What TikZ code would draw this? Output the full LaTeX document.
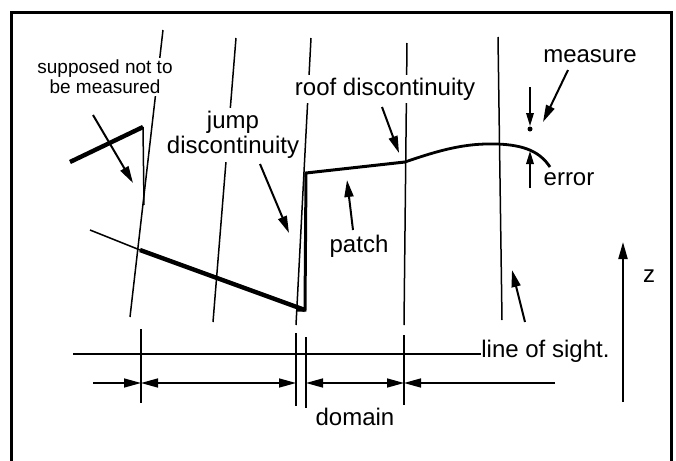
\documentclass[tikz,border=0pt]{standalone}
\usepackage{fontspec}
\setmainfont{Liberation Sans}
\usetikzlibrary{arrows.meta}
\begin{document}
\begin{tikzpicture}[x=0.5pt,y=-0.5pt,
  thinl/.style={line width=0.75pt},
  lbl/.style={font=\fontsize{12}{12.5}\selectfont, fill=white, inner sep=1.5pt},
  smalllbl/.style={font=\fontsize{9.5}{10}\selectfont, fill=white, inner sep=1pt, align=center},
  arr/.style={line width=1pt, -{Triangle[length=8.5pt,width=4.5pt]}},
  dimarr/.style={line width=0.75pt, -{Triangle[length=8.5pt,width=4.5pt]}},
  dimboth/.style={line width=0.75pt, {Triangle[length=8.5pt,width=4.5pt]}-{Triangle[length=8.5pt,width=4.5pt]}},
  msrarr/.style={line width=0.75pt, -{Triangle[length=6.5pt,width=3.8pt]}},
]
\useasboundingbox (0,0) rectangle (676,461);
% frame
\draw[line width=1.5pt] (11,461) -- (11,12) -- (671,12) -- (671,461);

% lines of sight
\coordinate (s1t) at (163,30);  \coordinate (s1b) at (130,317);
\coordinate (s2t) at (236,38);  \coordinate (s2b) at (213,322);
\coordinate (s3t) at (311,38);  \coordinate (s3b) at (296,325);
\coordinate (s4t) at (407,43);  \coordinate (s4b) at (404,325);
\coordinate (s5t) at (498,37);  \coordinate (s5b) at (502,320);
\draw[thinl] (s1t) -- (s1b);
\draw[thinl] (s2t) -- (s2b);
\draw[thinl] (s3t) -- (s3b);
\draw[thinl] (s4t) -- (s4b);
\draw[thinl] (s5t) -- (s5b);

% surface
\coordinate (a0) at (90,230);
\coordinate (a1) at (140,250);
\coordinate (a2) at (305,310);
\coordinate (a3) at (306,173);
\coordinate (a4) at (405,162);
\coordinate (a5) at (497,144);
\coordinate (a6) at (550,167);
\draw[thinl] (a0) -- (a1);
\draw[line width=2.2pt] (a1) -- (a2);
\draw[line width=1.5pt, line join=miter] ([xshift=-4]a2) -- (a2) -- (a3) -- (a4);
\draw[line width=1.4pt] (a4) .. controls (440,150) and (465,143) .. (a5)
  .. controls (525,145) and (540,152) .. (a6);
\coordinate (b0) at (70,162);
\coordinate (b1) at (143,127);
\coordinate (b2) at (144,205);
\draw[line width=2.2pt] (b0) -- (b1);
\draw[thinl] (b1) -- (b2);

% labels
\node[smalllbl] (sup) at (105,77) {supposed not to\\be measured};
\node[lbl, align=center] (jump) at (233,135) {jump\\discontinuity};
\node[lbl, anchor=base] (roof) at (385,95) {roof discontinuity};
\node[lbl, anchor=base] (meas) at (590,62) {measure};
\node[lbl, anchor=base] (err) at (569,185) {error};
\node[lbl, anchor=base] (patch) at (359,252) {patch};
\node[lbl, anchor=base] (dom) at (355,425) {domain};
\node[lbl, anchor=base west, inner sep=0pt] (los) at (481,357) {line of sight.};
\node[lbl, anchor=base] (z) at (649,282) {z};

% label arrows
\coordinate (p1) at (93,115);  \coordinate (p2) at (133,183);
\coordinate (j1) at (260,164); \coordinate (j2) at (289,233);
\coordinate (r1) at (382,107); \coordinate (r2) at (399,153);
\coordinate (q1) at (353,230); \coordinate (q2) at (347,180);
\coordinate (l1) at (525,322); \coordinate (l2) at (512,270);
\coordinate (m1) at (568,70);  \coordinate (m2) at (543,122);
\draw[arr] (p1) -- (p2);
\draw[arr] (j1) -- (j2);
\draw[arr] (r1) -- (r2);
\draw[arr] (q1) -- (q2);
\draw[arr] (l1) -- (l2);
\draw[arr] (m1) -- (m2);

% measure / error
\coordinate (e0) at (530,87);
\coordinate (e1) at (530,126);
\coordinate (e2) at (530,129);
\coordinate (e3) at (530,151);
\coordinate (e4) at (530,188);
\draw[msrarr] (e0) -- (e1);
\fill (e2) circle[radius=2.5];
\draw[msrarr] (e4) -- (e3);

% z axis
\coordinate (z0) at (623,402);
\coordinate (z1) at (623,242);
\draw[arr] (z0) -- (z1);

% horizontal reference line
\coordinate (h0) at (73,354);
\coordinate (h1) at (481,354);
\draw[thinl] (h0) -- (h1);

% ticks
\coordinate (t1a) at (141,329); \coordinate (t1b) at (141,403);
\coordinate (t2a) at (296,333); \coordinate (t2b) at (296,406);
\coordinate (t3a) at (306,337); \coordinate (t3b) at (306,408);
\coordinate (t4a) at (404,335); \coordinate (t4b) at (404,405);
\draw[thinl] (t1a) -- (t1b);
\draw[thinl] (t2a) -- (t2b);
\draw[thinl] (t3a) -- (t3b);
\draw[thinl] (t4a) -- (t4b);

% dimension arrows
\coordinate (d0) at (93,383);
\coordinate (d1) at (141,383);
\coordinate (d2) at (296,383);
\coordinate (d3) at (306,383);
\coordinate (d4) at (404,383);
\coordinate (d5) at (555,383);
\draw[dimarr] (d0) -- (d1);
\draw[dimboth] (d1) -- (d2);
\draw[dimboth] (d3) -- (d4);
\draw[dimarr] (d5) -- (d4);
\end{tikzpicture}
\end{document}
